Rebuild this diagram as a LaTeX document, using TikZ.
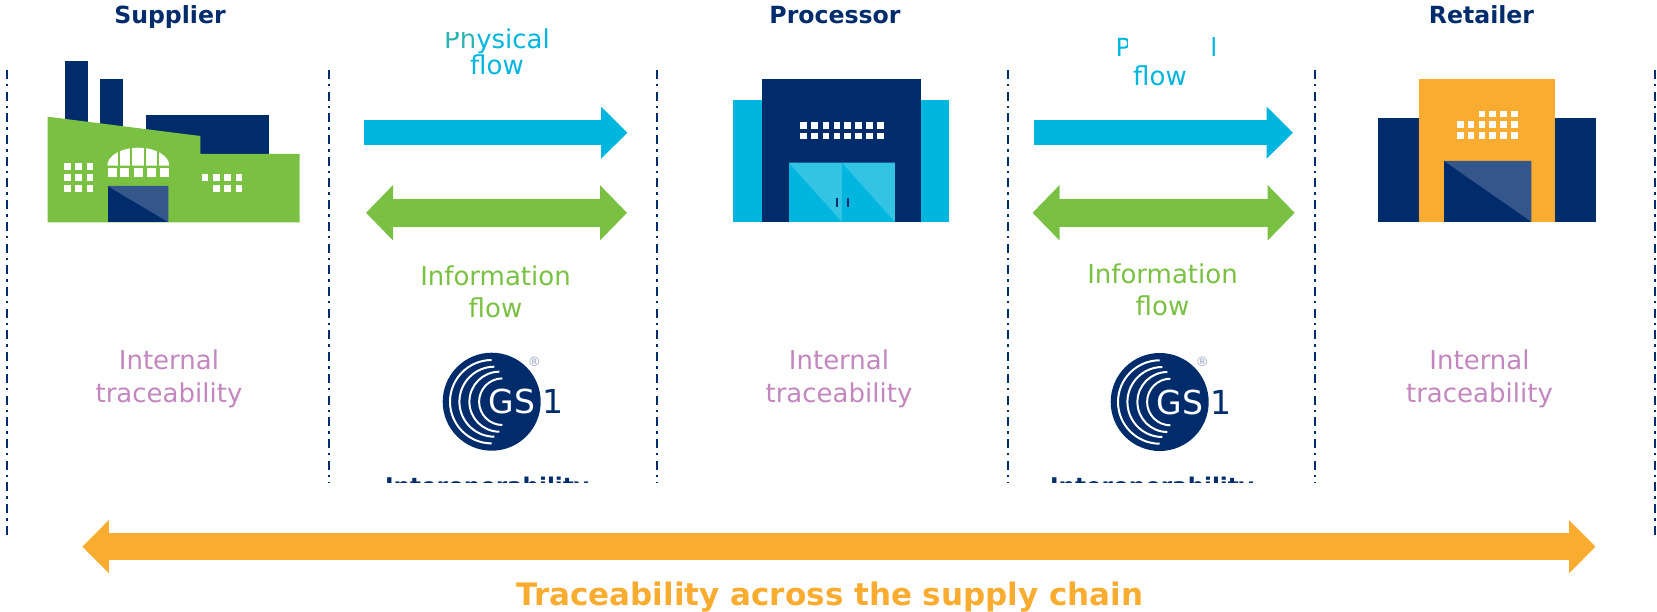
\documentclass[tikz,border=0pt]{standalone}
\usepackage{fontspec}
\setmainfont{DejaVu Sans}
\usetikzlibrary{
        arrows.meta,
        positioning
    }
\definecolor{gsnavy}{HTML}{002C6C}
\definecolor{gsdoor}{HTML}{34568B}
\definecolor{gsblue}{HTML}{00B6DE}
\definecolor{gslight}{HTML}{33C3E5}
\definecolor{gsgreen}{HTML}{7AC143}
\definecolor{gsorange}{HTML}{F9AC2F}
\definecolor{gspurple}{HTML}{C486BF}
\definecolor{gsteal}{HTML}{2DB3B0}
\definecolor{gsmark}{HTML}{9AA5C4}
\tikzset{every node/.style={inner sep=0pt,align=center}}
\tikzset{heading/.style={anchor=base,text=gsnavy,font=\fontsize{23.6}{26}\selectfont\bfseries}}
\tikzset{internal/.style={text=gspurple,font=\fontsize{26}{33}\selectfont}}
\tikzset{physical/.style={text=gsblue,font=\fontsize{26}{26}\selectfont}}
\tikzset{information/.style={text=gsgreen,font=\fontsize{26}{32}\selectfont}}
\tikzset{interop/.style={text=gsnavy,font=\fontsize{23}{26}\selectfont\bfseries}}
\tikzset{boundary/.style={draw=gsnavy,line width=2.4pt,dash pattern=on 9pt off 5pt on 2.5pt off 5.2pt}}
\tikzset{cover/.style={fill=white}}
\tikzset{pane/.style={fill=white,minimum width=6.5pt,minimum height=6.5pt}}
\tikzset{goods arrow/.style={draw=gsblue,line width=25.3pt,-{Triangle[length=26.5pt,width=50.7pt]}}}
\tikzset{data arrow/.style={draw=gsgreen,line width=27.7pt,{Triangle[length=27pt,width=53.7pt]}-{Triangle[length=27pt,width=53.7pt]}}}
\tikzset{chain arrow/.style={draw=gsorange,line width=26.7pt,{Triangle[length=26.5pt,width=51.7pt]}-{Triangle[length=26.5pt,width=51.7pt]}}}
\tikzset{gslogo/.pic={
        \fill[gsnavy] (0,0) circle[radius=49];
        \draw[white,line width=2pt] (0,41.7) arc[start angle=90,end angle=270,radius=41.7];
        \draw[white,line width=2pt] (2.7,35) arc[start angle=90,end angle=270,radius=35];
        \draw[white,line width=2pt] (7.7,30) arc[start angle=90,end angle=270,radius=30];
        \draw[white,line width=2pt] (10.7,23.3) arc[start angle=90,end angle=270,radius=23.3];
        \node[text=white,font=\fontsize{33}{33}\selectfont] (-gs) at (20.5,0) {GS};
        \node[text=gsnavy,font=\fontsize{33}{33}\selectfont] (-one) at (61.5,0) {1};
        \node[text=gsmark,font=\fontsize{13}{13}\selectfont] (-mark) at (42.6,-40) {®};
    }}

\begin{document}
\begin{tikzpicture}[x=1pt,y=-1pt]
            \useasboundingbox (0,0) rectangle (1657,612);
            \coordinate (a1) at (7,70);    \coordinate (a2) at (7,538);
            \coordinate (b1) at (329,70);  \coordinate (b2) at (329,483);
            \coordinate (c1) at (657,70);  \coordinate (c2) at (657,483);
            \coordinate (d1) at (1008,70); \coordinate (d2) at (1008,483);
            \coordinate (e1) at (1315,70); \coordinate (e2) at (1315,483);
            \coordinate (f1) at (1655,70); \coordinate (f2) at (1655,538);
            \foreach \top/\bottom in {a1/a2,b1/b2,c1/c2,d1/d2,e1/e2,f1/f2}
                \draw[boundary] (\top) -- (\bottom);

            \node[heading] (supplier)  at (170,24)   {Supplier};
            \node[heading] (processor) at (835,24)   {Processor};
            \node[heading] (retailer)  at (1481.5,24) {Retailer};

            % factory
            \fill[gsnavy] (65.2,60.7) rectangle (87.5,125);
            \fill[gsnavy] (99.7,79) rectangle (122.5,130);
            \fill[gsnavy] (145.6,115.3) rectangle (269.4,156);
            \fill[gsgreen] (47.6,116.7) -- (200.3,136) -- (200.3,154) -- (299.7,154) -- (299.7,222.3) -- (47.6,222.3) -- cycle;
            \fill[gsnavy] (107.7,186) rectangle (168.4,222.3);
            \fill[gsdoor] (107.7,186) -- (168.4,186) -- (168.4,222.3) -- cycle;
            \foreach \x in {67.3,78.7,90}
                \foreach \y in {166.7,177.7,188.7}
                    \node[pane] (w\x-\y) at (\x,\y) {};
            \foreach \x in {205,216.3,227.7,239}
                \node[pane] (r\x) at (\x,177.7) {};
            \foreach \x in {216.3,227.7,239}
                \node[pane] (s\x) at (\x,188.7) {};
            \fill[white] (107.3,165.7) arc[start angle=180,end angle=360,x radius=31,y radius=18] -- cycle;
            \foreach \x in {118.5,131,145,158}
                \fill[gsgreen] (\x-1,146) rectangle (\x+1,166);
            \foreach \x in {112.8,124.5,138,151.5,164}
                \node[pane,minimum width=9pt,minimum height=9pt] (a\x) at (\x,173) {};

            % processor
            \fill[gsblue] (733.2,100.3) rectangle (948.7,221.7);
            \fill[gsnavy] (762.3,79.3) rectangle (921,221.7);
            \fill[gsblue] (788.8,162.7) rectangle (894.8,221.7);
            \fill[gslight] (788.8,162.7) -- (841.8,162.7) -- (841.8,221.7) -- cycle;
            \fill[gslight] (841.8,162.7) -- (894.8,162.7) -- (894.8,221.7) -- cycle;
            \fill[gsnavy] (836,198.3) rectangle (838,206.7);
            \fill[gsnavy] (847,198.3) rectangle (849,206.7);
            \foreach \x in {803.5,814.5,825.8,836.8,847.7,858.7,869.6,880.5}
                \foreach \y in {125.7,136}
                    \node[pane] (p\x-\y) at (\x,\y) {};

            % retailer
            \fill[gsnavy] (1378,118.3) rectangle (1595.7,221.7);
            \fill[gsorange] (1419,79.3) rectangle (1555.3,221.7);
            \fill[gsnavy] (1444,161) rectangle (1531.3,221.7);
            \fill[gsdoor] (1444,161) -- (1531.3,161) -- (1531.3,221.7) -- cycle;
            \foreach \x in {1482,1492.7,1503.7,1514.7}
                \node[pane] (t\x) at (\x,114) {};
            \foreach \x in {1460.3,1471,1482,1492.7,1503.7,1514.7}
                \foreach \y in {124.7,135.7}
                    \node[pane] (u\x-\y) at (\x,\y) {};

            \coordinate (g1) at (364,132.7);    \coordinate (g2) at (627.5,132.7);
            \coordinate (g3) at (1033.7,132.7); \coordinate (g4) at (1293,132.7);
            \coordinate (h1) at (366,212.8);    \coordinate (h2) at (627,212.8);
            \coordinate (h3) at (1032.5,212.8); \coordinate (h4) at (1294.7,212.8);
            \coordinate (k1) at (82.4,546.7);   \coordinate (k2) at (1595.5,546.7);
            \draw[goods arrow] (g1) -- (g2);
            \draw[goods arrow] (g3) -- (g4);
            \draw[data arrow] (h1) -- (h2);
            \draw[data arrow] (h3) -- (h4);
            \draw[chain arrow] (k1) -- (k2);

            \node[physical] (physicalone) at (497,52) {{\color{gsteal}Ph}ysical\\flow};
            \fill[cover] (440,24) rectangle (472,32);
            \node[physical,font=\fontsize{25}{26}\selectfont] (physicaltwo) at (1166.5,50) {Physical};
            \fill[cover] (1127.5,30) rectangle (1210.5,65);
            \node[physical] (flowtwo) at (1160,75.5) {flow};

            \node[information] (infoone) at (495.5,292) {Information\\flow};
            \node[information] (infotwo) at (1162.5,290) {Information\\flow};

            \node[internal] (internalone)   at (169,379) {Internal\\traceability};
            \node[internal] (internaltwo)   at (839,379) {Internal\\traceability};
            \node[internal] (internalthree) at (1479.5,379) {Internal\\traceability};

            \pic (logoone) at (491.7,401.7) {gslogo};
            \pic (logotwo) at (1159.7,402) {gslogo};

            \node[interop,anchor=north] (interopone) at (487,477) {Interoperability};
            \node[interop,anchor=north] (interoptwo) at (1152,476.5) {Interoperability};
            \fill[cover] (340,483) rectangle (1300,515);

            \node[text=gsorange,font=\fontsize{31}{36}\selectfont\bfseries] (chain) at (830,597) {Traceability across the supply chain};
        \end{tikzpicture}
\end{document}
